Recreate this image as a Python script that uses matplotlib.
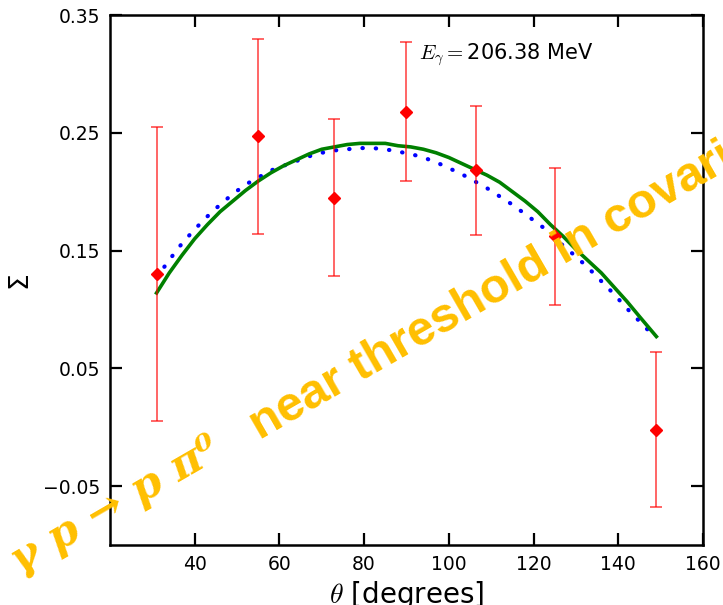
import numpy as np
import matplotlib
matplotlib.use('Agg')
import matplotlib.pyplot as plt

plt.rcParams['mathtext.fontset'] = 'cm'

# measured beam asymmetry points
theta_data = [31, 55, 73, 90, 106.5, 125, 149]
sigma_data = [0.130, 0.247, 0.195, 0.268, 0.218, 0.162, -0.002]
sigma_err = [0.125, 0.083, 0.067, 0.059, 0.055, 0.058, 0.066]

# solid green model curve
theta_solid = [31, 34, 37, 40, 43, 46, 49, 52, 55, 58, 61, 64, 67, 70, 73, 76,
               79, 82, 85, 88, 91, 94, 97, 100, 103, 106, 109, 112, 115, 118,
               121, 124, 127, 130, 133, 136, 139, 142, 145, 149]
sigma_solid = [0.114, 0.131, 0.146, 0.160, 0.172, 0.183, 0.192, 0.201, 0.209,
               0.216, 0.222, 0.227, 0.232, 0.236, 0.238, 0.240, 0.241, 0.241,
               0.241, 0.239, 0.238, 0.236, 0.233, 0.229, 0.224, 0.219, 0.214,
               0.208, 0.200, 0.192, 0.183, 0.172, 0.162, 0.151, 0.141, 0.131,
               0.119, 0.107, 0.094, 0.077]

# dotted blue model curve
theta_dot = [31, 34, 37, 40, 43, 46, 49, 52, 55, 58, 61, 64, 67, 70, 73, 76,
             79, 82, 85, 88, 91, 94, 97, 100, 103, 106, 109, 112, 115, 118,
             121, 124, 127, 130, 133, 136, 139, 142, 145, 148.5]
sigma_dot = [0.127, 0.142, 0.156, 0.168, 0.179, 0.189, 0.198, 0.206, 0.212,
             0.218, 0.222, 0.226, 0.230, 0.233, 0.235, 0.236, 0.237, 0.237,
             0.236, 0.234, 0.232, 0.229, 0.225, 0.220, 0.215, 0.209, 0.203,
             0.196, 0.189, 0.181, 0.173, 0.165, 0.154, 0.145, 0.135, 0.124,
             0.113, 0.101, 0.090, 0.077]

xticks = [40, 60, 80, 100, 120, 140, 160]
yticks = [-0.05, 0.05, 0.15, 0.25, 0.35]

fig = plt.figure(figsize=(7.23, 6.05), dpi=100)
ax = fig.add_axes([0.1521, 0.0992, 0.8202, 0.876])

ax.plot(theta_dot, sigma_dot, color='blue', lw=3.0,
        linestyle=(0, (0.1, 3.1)), dash_capstyle='round', zorder=2)
ax.plot(theta_solid, sigma_solid, color='green', lw=2.6, zorder=3)
ax.errorbar(theta_data, sigma_data, yerr=sigma_err, fmt='none', ecolor='red',
            elinewidth=1.2, capsize=4, capthick=1.2, alpha=0.7, zorder=4)
ax.plot(theta_data, sigma_data, 'D', color='red', ms=6, zorder=5)

ax.text(93, 0.312, r'$E_\gamma =$206.38 MeV', fontsize=15, va='baseline')

ax.set_xlim(20, 160)
ax.set_ylim(-0.10, 0.35)
ax.set_xticks(xticks)
ax.set_yticks(yticks)
ax.set_yticklabels(['\u22120.05', '0.05', '0.15', '0.25', '0.35'])
ax.tick_params(direction='in', length=8.5, width=1.6, labelsize=13.5,
               top=True, right=True, pad=7)
for s in ax.spines.values():
    s.set_linewidth(1.8)

ax.set_xlabel(r'$\theta$ [degrees]', fontsize=20, labelpad=4)
ax.set_ylabel('\u03a3', fontsize=19, labelpad=8)

# watermark overlay
gold = '#ffbf00'
fig.text(20 / 723, 1 - 574 / 605, '\u03b3 p \u2192 p \u03c0\u2070', color=gold,
         fontsize=31, family='DejaVu Serif', style='italic', weight='bold',
         rotation=30, rotation_mode='anchor', ha='left', va='baseline', zorder=10)
fig.text(260 / 723, 1 - 440 / 605, 'near threshold in covariant', color=gold,
         fontsize=35, family='Liberation Sans', weight='bold',
         rotation=30, rotation_mode='anchor', ha='left', va='baseline', zorder=10)

fig.savefig('out.png', dpi=100)
